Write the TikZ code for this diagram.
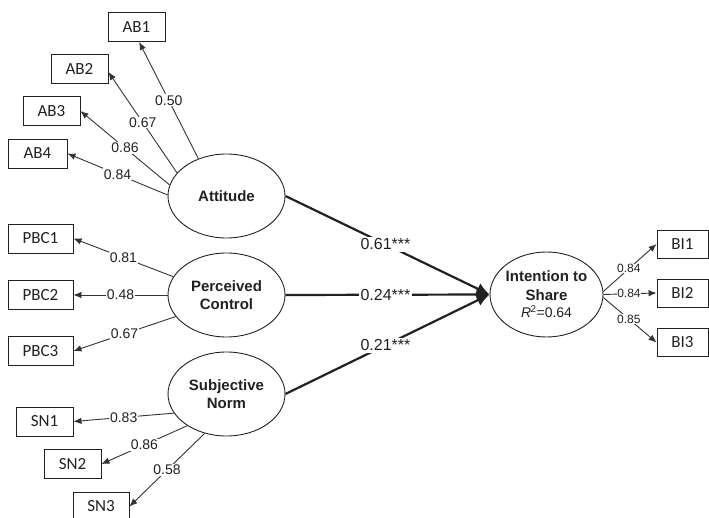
\documentclass[tikz,border=0pt]{standalone}
\usepackage{fontspec}
\setmainfont{Liberation Sans}
\newfontfamily\boxfont{Carlito}
\usetikzlibrary{shapes.geometric,arrows.meta}
\definecolor{ink}{gray}{0.13}
\definecolor{thinline}{gray}{0.2}

\begin{document}
\begin{tikzpicture}[x=1pt,y=-1pt,
  latent/.style={ellipse,draw=ink,line width=0.9pt,inner sep=0pt,
    minimum width=117pt,minimum height=84pt,align=center,text=ink,
    font=\fontsize{15}{18.5}\selectfont\bfseries},
  indicator/.style={rectangle,draw=ink,line width=0.9pt,inner sep=0pt,
    minimum width=57pt,minimum height=29pt,text=ink,
    font=\boxfont\fontsize{17}{18}\selectfont},
  loading/.style={draw=thinline,line width=0.9pt,-{Latex[length=8pt,width=6.5pt]}},
  structural/.style={draw=ink,line width=2.2pt,-{Latex[length=13pt,width=12pt]}},
  weight/.style={fill=white,inner sep=1pt,text=ink,font=\fontsize{14}{14}\selectfont},
  smallweight/.style={fill=white,inner sep=0.5pt,text=ink,font=\fontsize{12}{12}\selectfont},
  beta/.style={fill=white,inner sep=2pt,text=ink,font=\fontsize{16}{16}\selectfont},
]
\useasboundingbox (0,0) rectangle (709,518);
\clip (0,0) rectangle (709,518);

% latent constructs
\node[latent] (att) at (226.5,196) {Attitude};
\node[latent] (pc)  at (226.5,295) {Perceived\\Control};
\node[latent] (sn)  at (226.5,394) {Subjective\\Norm};
\node[latent,minimum width=113pt,minimum height=85pt,inner xsep=-5pt] (int) at (546.5,294.5)
  {Intention to\\Share\\[-1pt]{\mdseries\fontsize{14}{16}\selectfont\textit{R}\kern-0.5pt\textsuperscript{2}=0.64}};

% attitude indicators
\node[indicator] (ab1) at (136.5,27) {AB1};
\node[indicator] (ab2) at (79.5,68.5) {AB2};
\node[indicator] (ab3) at (51.5,111) {AB3};
\node[indicator,minimum width=59pt] (ab4) at (37.5,153.5) {AB4};

% perceived control indicators
\node[indicator,minimum width=65pt] (pbc1) at (40.5,238.5) {PBC1};
\node[indicator,minimum width=65pt] (pbc2) at (40.5,295) {PBC2};
\node[indicator,minimum width=65pt] (pbc3) at (40.5,351) {PBC3};

% subjective norm indicators
\node[indicator] (sn1) at (44.5,421.5) {SN1};
\node[indicator] (sn2) at (72.5,464) {SN2};
\node[indicator,minimum width=56pt] (sn3) at (101,506.5) {SN3};

% intention indicators
\node[indicator,minimum width=51pt,minimum height=28pt] (bi1) at (682.5,244) {BI1};
\node[indicator,minimum width=51pt,minimum height=28pt] (bi2) at (682.5,293) {BI2};
\node[indicator,minimum width=51pt,minimum height=28pt] (bi3) at (682.5,342.5) {BI3};

% measurement paths
\draw[loading] (att.127) -- node[weight] {0.50} (ab1.-80);
\draw[loading] (att.155) -- node[weight] {0.67} (ab2.-7);
\draw[loading] (att.169) -- node[weight] {0.86} (ab3.east);
\draw[loading] (att.179) -- node[weight] {0.84} (ab4.east);

\draw[loading] (pc.161) -- node[weight] {0.81} (pbc1.east);
\draw[loading] (pc.west) -- node[weight] {0.48} (pbc2.east);
\draw[loading] (pc.203) -- node[weight] {0.67} (pbc3.east);

\draw[loading] (sn.200) -- node[weight] {0.83} (sn1.east);
\draw[loading] (sn.219) -- node[weight] {0.86} (sn2.east);
\draw[loading] (sn.241) -- node[weight] {0.58} (sn3.east);

\draw[loading] (int.3)  -- node[smallweight,pos=0.48] {0.84} (bi1.west);
\draw[loading] (int.0)  -- node[smallweight,pos=0.48] {0.84} (bi2.west);
\draw[loading] (int.-3) -- node[smallweight,pos=0.48] {0.85} (bi3.west);

% structural paths
\draw[structural] (att.east) -- node[beta,pos=0.49] {0.61***} (int.west);
\draw[structural] (pc.east)  -- node[beta,pos=0.49] {0.24***} (int.west);
\draw[structural] (sn.east)  -- node[beta,pos=0.49] {0.21***} (int.west);
\end{tikzpicture}
\end{document}
